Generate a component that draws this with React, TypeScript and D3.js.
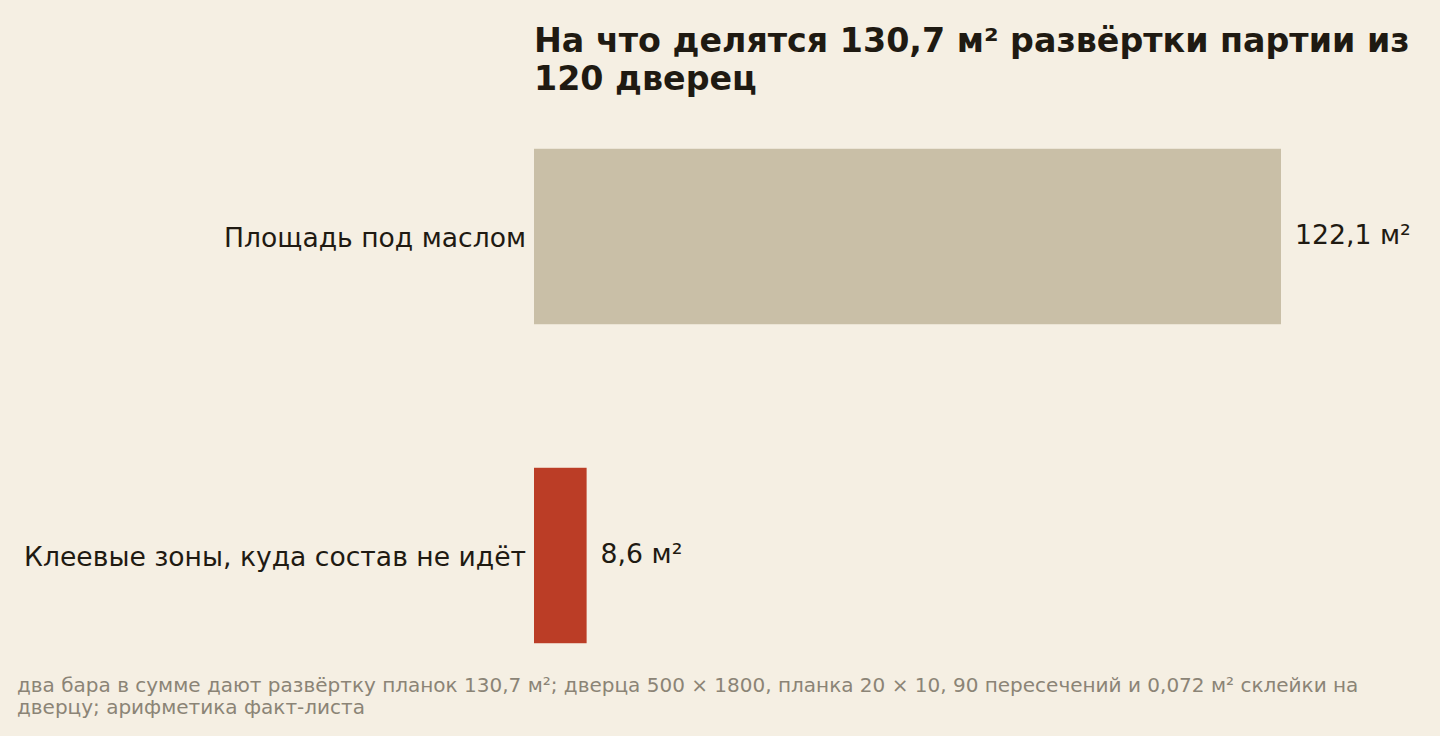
import { useEffect, useRef } from "react"
import * as d3 from "d3"

const categories = ["Площадь под маслом", "Клеевые зоны, куда состав не идёт"]
const values = [122.1, 8.6]
const valueLabels = ["122,1 м²", "8,6 м²"]
const barColors = ["#c9bfa7", "#bb3d26"]
const titleLines = ["На что делятся 130,7 м² развёртки партии из", "120 дверец"]
const footerLines = [
  "два бара в сумме дают развёртку планок 130,7 м²; дверца 500 × 1800, планка 20 × 10, 90 пересечений и 0,072 м² склейки на",
  "дверцу; арифметика факт-листа",
]

export default function App() {
  const svgRef = useRef<SVGSVGElement>(null)

  useEffect(() => {
    if (!svgRef.current) return
    const width = 1440
    const height = 736
    const font = "'DejaVu Sans', sans-serif"

    const svg = d3.select(svgRef.current).attr("width", width).attr("height", height)
    svg.selectAll("*").remove()

    svg.append("rect").attr("width", width).attr("height", height).attr("fill", "#f5efe3")

    const x = d3.scaleLinear().domain([0, 122.1]).range([534, 1281])
    const y = d3
      .scaleBand()
      .domain(categories)
      .range([77, 715])
      .paddingInner(0.45)
      .paddingOuter(0.225)

    const data = categories.map((c, i) => ({ c, v: values[i], label: valueLabels[i], color: barColors[i] }))

    svg
      .selectAll(".bar")
      .data(data)
      .enter()
      .append("rect")
      .attr("class", "bar")
      .attr("x", x(0))
      .attr("y", (d) => y(d.c) || 0)
      .attr("width", (d) => x(d.v) - x(0))
      .attr("height", y.bandwidth())
      .attr("fill", (d) => d.color)

    svg
      .selectAll(".cat")
      .data(data)
      .enter()
      .append("text")
      .attr("class", "cat")
      .attr("x", x(0) - 8)
      .attr("y", (d) => (y(d.c) || 0) + y.bandwidth() / 2 + 10)
      .attr("text-anchor", "end")
      .attr("font-family", font)
      .attr("font-size", 26.6)
      .attr("fill", "#1f1a12")
      .text((d) => d.c)

    svg
      .selectAll(".val")
      .data(data)
      .enter()
      .append("text")
      .attr("class", "val")
      .attr("x", (d) => x(d.v) + 14)
      .attr("y", (d) => (y(d.c) || 0) + y.bandwidth() / 2 + 7)
      .attr("font-family", font)
      .attr("font-size", 26.7)
      .attr("fill", "#1f1a12")
      .text((d) => d.label)

    svg
      .selectAll(".title")
      .data(titleLines)
      .enter()
      .append("text")
      .attr("class", "title")
      .attr("x", 534)
      .attr("y", (d, i) => 52 + i * 38)
      .attr("font-family", font)
      .attr("font-size", 33.3)
      .attr("font-weight", "bold")
      .attr("fill", "#1f1a12")
      .text((d) => d)

    svg
      .selectAll(".foot")
      .data(footerLines)
      .enter()
      .append("text")
      .attr("class", "foot")
      .attr("x", 17)
      .attr("y", (d, i) => 692 + i * 22)
      .attr("font-family", font)
      .attr("font-size", 20)
      .attr("fill", "#8b8476")
      .text((d) => d)
  }, [])

  return <svg ref={svgRef} style={{ position: "absolute", left: 0, top: 0 }} />
}
